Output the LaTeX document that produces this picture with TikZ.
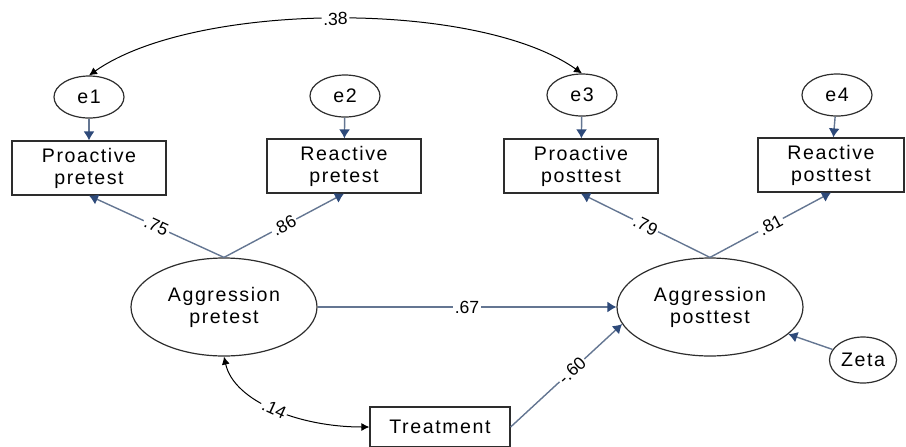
\documentclass[tikz,border=0pt]{standalone}
\usepackage{fontspec}
\setmainfont{Liberation Sans}[LetterSpace=8]
\newfontfamily\coeffont{Liberation Sans}
\usepackage{xcolor}
\usepackage{tikz}
\usetikzlibrary{arrows.meta, shapes}

\definecolor{pathblue}{RGB}{100,118,146}
\definecolor{headblue}{RGB}{46,74,122}
\definecolor{linegray}{RGB}{45,45,45}

\begin{document}
\begin{tikzpicture}[x=0.5pt, y=-0.5pt, line width=0.6pt,
    latent/.style={draw=linegray, ellipse, minimum width=93pt, minimum height=49pt, inner sep=0pt, align=center, font=\fontsize{9.8}{11}\selectfont},
    errvar/.style={draw=linegray, ellipse, minimum width=35pt, minimum height=21pt, inner sep=0pt, font=\fontsize{9.8}{11}\selectfont},
    indic/.style={draw=linegray, rectangle, minimum width=77pt, minimum height=27pt, inner sep=0pt, align=center, font=\fontsize{9.8}{11}\selectfont},
    regpath/.style={draw=pathblue, line width=0.7pt, -{Latex[length=4.5pt, width=5.5pt, color=headblue]}},
    covpath/.style={draw=black, line width=0.5pt, {Latex[length=4pt, width=4pt]}-{Latex[length=4pt, width=4pt]}},
    coef/.style={fill=white, inner sep=0.8pt, sloped, font=\coeffont\fontsize{8.8}{9}\selectfont}]
        \useasboundingbox (0,0) rectangle (906,446);

        % Error terms
        \node (e1) [errvar] at (89,97) {e1};
        \node (e2) [errvar] at (345,96) {e2};
        \node (e3) [errvar] at (582,95) {e3};
        \node (e4) [errvar] at (837,95) {e4};

        % Indicators
        \node (propre) [indic] at (89,168) {Proactive\\pretest};
        \node (reacpre) [indic] at (344,166) {Reactive\\pretest};
        \node (propost) [indic] at (581,166) {Proactive\\posttest};
        \node (reacpost) [indic, minimum width=73pt] at (831,165) {Reactive\\posttest};

        % Latent variables
        \node (aggpre) [latent] at (224,307) {Aggression\\pretest};
        \node (aggpost) [latent] at (710,307) {Aggression\\posttest};
        \node (zeta) [errvar, minimum width=33.5pt, minimum height=23pt] at (863,360) {Zeta};
        \node (treat) [indic, minimum width=70pt, minimum height=20pt] at (440,427) {Treatment};

        % Error paths
        \draw[regpath] (e1) -- (propre);
        \draw[regpath] (e2) -- (reacpre);
        \draw[regpath] (e3) -- (propost);
        \draw[regpath] (e4) -- (reacpost);

        % Loadings
        \draw[regpath] (aggpre.north) -- node[coef] {.75} (propre.south);
        \draw[regpath] (aggpre.north) -- node[coef] {.86} (reacpre.south);
        \draw[regpath] (aggpost.north) -- node[coef] {.79} (propost.south);
        \draw[regpath] (aggpost.north) -- node[coef] {.81} (reacpost.south);

        % Structural paths
        \draw[regpath] (aggpre) -- node[coef] {.67} (aggpost);
        \draw[regpath] (treat.east) -- node[coef, pos=0.55] {-.60} (aggpost.191);
        \draw[regpath] (zeta) -- (aggpost);

        % Covariances
        \draw[covpath] (e1.north) .. controls +(105,-74) and +(-105,-74) .. node[coef] {.38} (e3.north);
        \draw[covpath] (aggpre.south) .. controls +(10,45) and +(-70,0) .. node[coef] {.14} (treat.west);
    \end{tikzpicture}
\end{document}
